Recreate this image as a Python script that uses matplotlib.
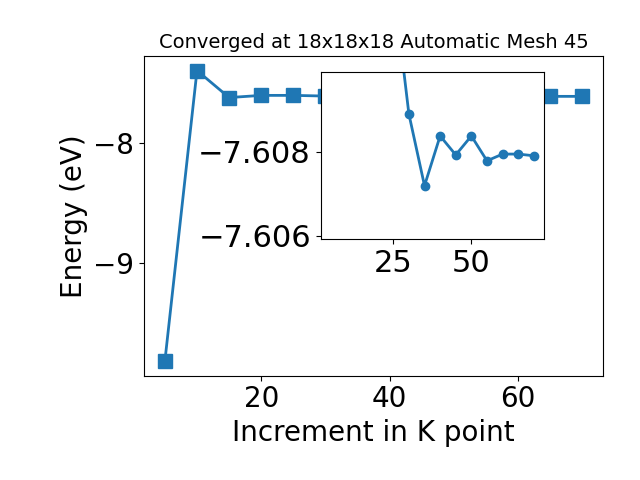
import matplotlib
matplotlib.use("Agg")
from matplotlib import pyplot as plt

# k-point convergence data
kpoints = [5, 10, 15, 20, 25, 30, 35, 40, 45, 50, 55, 60, 65, 70]
energy = [-9.823, -7.392, -7.618, -7.5997, -7.5997, -7.6055, -7.60719,
          -7.60837, -7.60792, -7.60837, -7.60778, -7.60794, -7.60794, -7.6079]

# zoomed part shown in the inset
inset_k = [25, 30, 35, 40, 45, 50, 55, 60, 65, 70]
inset_energy = [-7.612, -7.60889, -7.60719, -7.60837, -7.60792, -7.60837,
                -7.60778, -7.60794, -7.60794, -7.6079]

fig = plt.figure(figsize=(6.4, 4.8), dpi=100)
ax = fig.add_axes([0.225, 0.2173, 0.7177, 0.666])
ax.plot(kpoints, energy, 's-', color='tab:blue', lw=2, ms=10)
ax.set_xlabel('Increment in K point', fontsize=20)
ax.set_ylabel('Energy (eV)', fontsize=20)
ax.set_title('Converged at 18x18x18 Automatic Mesh 45', fontsize=14)
ax.tick_params(labelsize=20)

# inset
ins = fig.add_axes([0.501, 0.5015, 0.349, 0.348])
ins.plot(inset_k, inset_energy, 'o-', color='tab:blue', lw=2, ms=6)
ins.set_xlim(ax.get_xlim())
ins.set_ylim(-7.60592, -7.60988)
ins.set_xticks([25, 50])
ins.set_yticks([-7.608, -7.606])
ins.tick_params(labelsize=22)

fig.savefig('out.png', dpi=100)
